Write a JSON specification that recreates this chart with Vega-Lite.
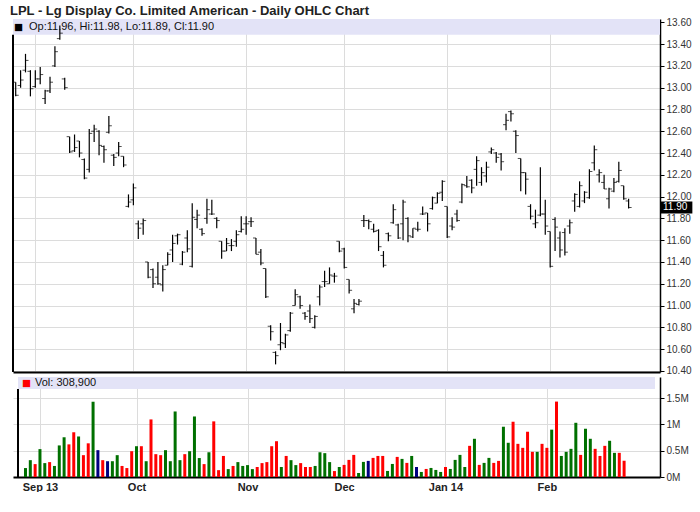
{
  "$schema": "https://vega.github.io/schema/vega-lite/v6.json",
  "padding": {"left": 10, "top": 5, "right": 0, "bottom": 0},
  "background": "white",
  "title": {"text": "LPL - Lg Display Co. Limited American - Daily OHLC Chart", "anchor": "start", "font": "Liberation Sans", "fontSize": 13, "fontWeight": "bold", "color": "#222", "dx": -2, "offset": -1},
  "config": {"view": {"stroke": null}, "font": "Liberation Sans", "concat": {"spacing": 0}},
  "spacing": 0,
  "data": {"values": [
{"day":0,"open":13.05,"high":13.05,"low":12.92,"close":12.93},
{"day":1,"open":13.02,"high":13.16,"low":13.00,"close":13.07,"volume":170000,"dir":"up"},
{"day":2,"open":13.16,"high":13.31,"low":13.14,"close":13.25,"volume":320000,"dir":"up"},
{"day":3,"open":13.15,"high":13.16,"low":12.92,"close":12.99,"volume":245000,"dir":"down"},
{"day":4,"open":13.01,"high":13.16,"low":13.00,"close":13.08,"volume":530000,"dir":"up"},
{"day":5,"open":13.08,"high":13.19,"low":13.03,"close":13.12,"volume":264000,"dir":"up"},
{"day":6,"open":12.90,"high":12.98,"low":12.85,"close":12.97,"volume":283000,"dir":"down"},
{"day":7,"open":12.97,"high":13.10,"low":12.95,"close":13.05,"volume":210000,"dir":"up"},
{"day":8,"open":13.20,"high":13.38,"low":13.19,"close":13.33,"volume":600000,"dir":"up"},
{"day":9,"open":13.45,"high":13.57,"low":13.44,"close":13.50,"volume":755000,"dir":"up"},
{"day":10,"open":13.08,"high":13.09,"low":12.98,"close":13.00,"volume":620000,"dir":"down"},
{"day":11,"open":12.55,"high":12.55,"low":12.40,"close":12.41,"volume":850000,"dir":"down"},
{"day":12,"open":12.42,"high":12.57,"low":12.41,"close":12.45,"volume":770000,"dir":"up"},
{"day":13,"open":12.51,"high":12.51,"low":12.36,"close":12.40,"volume":415000,"dir":"down"},
{"day":14,"open":12.34,"high":12.35,"low":12.16,"close":12.17,"volume":640000,"dir":"down"},
{"day":15,"open":12.25,"high":12.62,"low":12.22,"close":12.58,"volume":1430000,"dir":"up"},
{"day":16,"open":12.60,"high":12.66,"low":12.50,"close":12.62,"volume":510000,"dir":"flat"},
{"day":17,"open":12.60,"high":12.61,"low":12.38,"close":12.47,"volume":320000,"dir":"down"},
{"day":18,"open":12.46,"high":12.47,"low":12.31,"close":12.43,"volume":300000,"dir":"flat"},
{"day":19,"open":12.59,"high":12.74,"low":12.58,"close":12.65,"volume":300000,"dir":"up"},
{"day":20,"open":12.38,"high":12.39,"low":12.28,"close":12.36,"volume":415000,"dir":"up"},
{"day":21,"open":12.40,"high":12.50,"low":12.37,"close":12.46,"volume":210000,"dir":"down"},
{"day":22,"open":12.37,"high":12.37,"low":12.27,"close":12.29,"volume":170000,"dir":"down"},
{"day":23,"open":11.91,"high":12.02,"low":11.90,"close":11.95,"volume":490000,"dir":"down"},
{"day":24,"open":11.97,"high":12.12,"low":11.92,"close":12.08,"volume":585000,"dir":"up"},
{"day":25,"open":11.75,"high":11.78,"low":11.61,"close":11.71,"volume":585000,"dir":"down"},
{"day":26,"open":11.75,"high":11.80,"low":11.65,"close":11.78,"volume":300000,"dir":"up"},
{"day":27,"open":11.40,"high":11.40,"low":11.25,"close":11.26,"volume":1094000,"dir":"down"},
{"day":28,"open":11.33,"high":11.34,"low":11.16,"close":11.20,"volume":434000,"dir":"down"},
{"day":29,"open":11.26,"high":11.40,"low":11.19,"close":11.20,"volume":415000,"dir":"down"},
{"day":30,"open":11.19,"high":11.37,"low":11.13,"close":11.33,"volume":510000,"dir":"up"},
{"day":31,"open":11.37,"high":11.49,"low":11.37,"close":11.47,"volume":300000,"dir":"up"},
{"day":32,"open":11.51,"high":11.65,"low":11.40,"close":11.57,"volume":1245000,"dir":"up"},
{"day":33,"open":11.64,"high":11.66,"low":11.56,"close":11.65,"volume":320000,"dir":"up"},
{"day":34,"open":11.38,"high":11.50,"low":11.37,"close":11.49,"volume":434000,"dir":"down"},
{"day":35,"open":11.62,"high":11.69,"low":11.49,"close":11.52,"volume":490000,"dir":"up"},
{"day":36,"open":11.36,"high":11.94,"low":11.35,"close":11.81,"volume":1150000,"dir":"up"},
{"day":37,"open":11.79,"high":11.88,"low":11.71,"close":11.83,"volume":360000,"dir":"up"},
{"day":38,"open":11.70,"high":11.71,"low":11.64,"close":11.66,"volume":245000,"dir":"down"},
{"day":39,"open":11.80,"high":11.98,"low":11.75,"close":11.88,"volume":470000,"dir":"up"},
{"day":40,"open":11.84,"high":11.97,"low":11.83,"close":11.84,"volume":1057000,"dir":"down"},
{"day":41,"open":11.80,"high":11.81,"low":11.71,"close":11.78,"volume":130000,"dir":"down"},
{"day":42,"open":11.59,"high":11.59,"low":11.43,"close":11.50,"volume":400000,"dir":"down"},
{"day":43,"open":11.50,"high":11.62,"low":11.50,"close":11.57,"volume":150000,"dir":"up"},
{"day":44,"open":11.55,"high":11.61,"low":11.50,"close":11.55,"volume":210000,"dir":"down"},
{"day":45,"open":11.59,"high":11.69,"low":11.54,"close":11.65,"volume":283000,"dir":"up"},
{"day":46,"open":11.68,"high":11.82,"low":11.67,"close":11.70,"volume":210000,"dir":"up"},
{"day":47,"open":11.75,"high":11.82,"low":11.65,"close":11.75,"volume":226000,"dir":"up"},
{"day":48,"open":11.77,"high":11.81,"low":11.72,"close":11.77,"volume":150000,"dir":"up"},
{"day":49,"open":11.62,"high":11.62,"low":11.47,"close":11.47,"volume":190000,"dir":"down"},
{"day":50,"open":11.49,"high":11.52,"low":11.37,"close":11.39,"volume":264000,"dir":"down"},
{"day":51,"open":11.34,"high":11.34,"low":11.07,"close":11.08,"volume":283000,"dir":"down"},
{"day":52,"open":10.81,"high":10.82,"low":10.68,"close":10.76,"volume":585000,"dir":"down"},
{"day":53,"open":10.57,"high":10.58,"low":10.46,"close":10.54,"volume":680000,"dir":"down"},
{"day":54,"open":10.64,"high":10.84,"low":10.59,"close":10.66,"volume":190000,"dir":"up"},
{"day":55,"open":10.65,"high":10.74,"low":10.61,"close":10.73,"volume":400000,"dir":"down"},
{"day":56,"open":10.77,"high":10.94,"low":10.76,"close":10.93,"volume":320000,"dir":"up"},
{"day":57,"open":11.00,"high":11.15,"low":11.00,"close":11.10,"volume":226000,"dir":"up"},
{"day":58,"open":11.08,"high":11.09,"low":10.97,"close":11.00,"volume":264000,"dir":"down"},
{"day":59,"open":10.93,"high":10.94,"low":10.87,"close":10.90,"volume":190000,"dir":"down"},
{"day":60,"open":10.95,"high":11.01,"low":10.84,"close":10.88,"volume":190000,"dir":"down"},
{"day":61,"open":10.80,"high":10.91,"low":10.79,"close":10.90,"volume":210000,"dir":"up"},
{"day":62,"open":11.08,"high":11.19,"low":11.00,"close":11.17,"volume":470000,"dir":"up"},
{"day":63,"open":11.22,"high":11.32,"low":11.17,"close":11.22,"volume":453000,"dir":"up"},
{"day":64,"open":11.20,"high":11.35,"low":11.20,"close":11.28,"volume":283000,"dir":"up"},
{"day":65,"open":11.27,"high":11.30,"low":11.21,"close":11.27,"volume":113000,"dir":"down"},
{"day":66,"open":11.59,"high":11.59,"low":11.49,"close":11.50,"volume":190000,"dir":"up"},
{"day":67,"open":11.52,"high":11.53,"low":11.34,"close":11.35,"volume":230000,"dir":"down"},
{"day":68,"open":11.24,"high":11.24,"low":11.11,"close":11.14,"volume":325000,"dir":"down"},
{"day":69,"open":10.97,"high":11.06,"low":10.93,"close":11.02,"volume":420000,"dir":"down"},
{"day":70,"open":11.01,"high":11.06,"low":11.00,"close":11.04,"volume":76000,"dir":"up"},
{"day":71,"open":11.78,"high":11.83,"low":11.72,"close":11.78,"volume":287000,"dir":"up"},
{"day":72,"open":11.78,"high":11.79,"low":11.70,"close":11.77,"volume":306000,"dir":"flat"},
{"day":73,"open":11.70,"high":11.75,"low":11.67,"close":11.68,"volume":363000,"dir":"down"},
{"day":74,"open":11.69,"high":11.70,"low":11.50,"close":11.54,"volume":400000,"dir":"down"},
{"day":75,"open":11.46,"high":11.50,"low":11.35,"close":11.37,"volume":400000,"dir":"down"},
{"day":76,"open":11.66,"high":11.67,"low":11.59,"close":11.64,"volume":115000,"dir":"up"},
{"day":77,"open":11.76,"high":11.93,"low":11.75,"close":11.88,"volume":248000,"dir":"up"},
{"day":78,"open":11.74,"high":11.75,"low":11.61,"close":11.62,"volume":382000,"dir":"down"},
{"day":79,"open":11.75,"high":11.97,"low":11.60,"close":11.95,"volume":344000,"dir":"up"},
{"day":80,"open":11.80,"high":11.81,"low":11.58,"close":11.64,"volume":268000,"dir":"down"},
{"day":81,"open":11.63,"high":11.71,"low":11.62,"close":11.71,"volume":400000,"dir":"up"},
{"day":82,"open":11.70,"high":11.77,"low":11.68,"close":11.70,"volume":190000,"dir":"flat"},
{"day":83,"open":11.84,"high":11.91,"low":11.83,"close":11.84,"volume":96000,"dir":"up"},
{"day":84,"open":11.85,"high":11.85,"low":11.68,"close":11.75,"volume":153000,"dir":"down"},
{"day":85,"open":11.89,"high":12.00,"low":11.88,"close":11.99,"volume":172000,"dir":"up"},
{"day":86,"open":11.94,"high":12.04,"low":11.94,"close":12.03,"volume":134000,"dir":"up"},
{"day":87,"open":12.04,"high":12.15,"low":11.96,"close":12.14,"volume":96000,"dir":"up"},
{"day":88,"open":11.91,"high":11.91,"low":11.62,"close":11.63,"volume":190000,"dir":"down"},
{"day":89,"open":11.73,"high":11.81,"low":11.69,"close":11.72,"volume":153000,"dir":"up"},
{"day":90,"open":11.84,"high":11.88,"low":11.77,"close":11.78,"volume":325000,"dir":"up"},
{"day":91,"open":11.95,"high":12.12,"low":11.94,"close":12.11,"volume":420000,"dir":"up"},
{"day":92,"open":12.10,"high":12.19,"low":12.08,"close":12.09,"volume":190000,"dir":"up"},
{"day":93,"open":12.15,"high":12.16,"low":12.03,"close":12.08,"volume":592000,"dir":"down"},
{"day":94,"open":12.25,"high":12.37,"low":12.10,"close":12.33,"volume":726000,"dir":"up"},
{"day":95,"open":12.13,"high":12.27,"low":12.10,"close":12.22,"volume":230000,"dir":"down"},
{"day":96,"open":12.19,"high":12.32,"low":12.13,"close":12.27,"volume":268000,"dir":"up"},
{"day":97,"open":12.41,"high":12.45,"low":12.39,"close":12.43,"volume":363000,"dir":"up"},
{"day":98,"open":12.40,"high":12.41,"low":12.31,"close":12.36,"volume":268000,"dir":"down"},
{"day":99,"open":12.39,"high":12.40,"low":12.24,"close":12.32,"volume":306000,"dir":"down"},
{"day":100,"open":12.66,"high":12.76,"low":12.61,"close":12.70,"volume":955000,"dir":"up"},
{"day":101,"open":12.78,"high":12.79,"low":12.69,"close":12.76,"volume":650000,"dir":"up"},
{"day":102,"open":12.60,"high":12.61,"low":12.40,"close":12.56,"volume":1050000,"dir":"down"},
{"day":103,"open":12.35,"high":12.35,"low":12.05,"close":12.22,"volume":630000,"dir":"down"},
{"day":104,"open":12.22,"high":12.22,"low":12.02,"close":12.16,"volume":554000,"dir":"down"},
{"day":105,"open":11.91,"high":11.93,"low":11.79,"close":11.82,"volume":860000,"dir":"down"},
{"day":106,"open":11.75,"high":11.88,"low":11.71,"close":11.76,"volume":478000,"dir":"down"},
{"day":107,"open":11.83,"high":12.27,"low":11.82,"close":11.84,"volume":478000,"dir":"up"},
{"day":108,"open":11.84,"high":11.97,"low":11.65,"close":11.73,"volume":630000,"dir":"down"},
{"day":109,"open":11.68,"high":11.68,"low":11.35,"close":11.36,"volume":554000,"dir":"down"},
{"day":110,"open":11.79,"high":11.81,"low":11.50,"close":11.72,"volume":900000,"dir":"up"},
{"day":111,"open":11.62,"high":11.68,"low":11.44,"close":11.51,"volume":1433000,"dir":"down"},
{"day":112,"open":11.67,"high":11.71,"low":11.46,"close":11.49,"volume":400000,"dir":"up"},
{"day":113,"open":11.73,"high":11.79,"low":11.66,"close":11.76,"volume":478000,"dir":"up"},
{"day":114,"open":11.96,"high":12.03,"low":11.86,"close":12.02,"volume":535000,"dir":"up"},
{"day":115,"open":11.91,"high":12.14,"low":11.90,"close":12.10,"volume":1030000,"dir":"up"},
{"day":116,"open":11.96,"high":12.05,"low":11.94,"close":12.04,"volume":420000,"dir":"down"},
{"day":117,"open":11.99,"high":12.25,"low":11.98,"close":12.23,"volume":917000,"dir":"up"},
{"day":118,"open":12.31,"high":12.47,"low":12.24,"close":12.43,"volume":726000,"dir":"up"},
{"day":119,"open":12.20,"high":12.25,"low":12.13,"close":12.22,"volume":535000,"dir":"down"},
{"day":120,"open":12.13,"high":12.20,"low":12.07,"close":12.07,"volume":400000,"dir":"down"},
{"day":121,"open":11.98,"high":12.08,"low":11.89,"close":12.07,"volume":592000,"dir":"down"},
{"day":122,"open":12.05,"high":12.17,"low":12.04,"close":12.13,"volume":688000,"dir":"up"},
{"day":123,"open":12.14,"high":12.32,"low":12.13,"close":12.24,"volume":459000,"dir":"up"},
{"day":124,"open":12.10,"high":12.10,"low":11.97,"close":11.98,"volume":459000,"dir":"down"},
{"day":125,"open":11.96,"high":11.98,"low":11.89,"close":11.90,"volume":308900,"dir":"down"}
  ]},
  "vconcat": [
    {
      "width": 647,
      "height": 353,
      "layer": [
        {
          "data": {"values": [{}]},
          "mark": {"type": "rect", "color": "#e3e3f7"},
          "encoding": {
            "x": {"datum": -0.55, "type": "quantitative", "scale": {"domain": [-0.55, 131.4], "nice": false, "zero": false},
              "axis": {"title": null, "values": [4, 24, 47, 67, 88, 109], "tickCount": 20, "labels": false, "ticks": false, "tickSize": 0, "labelPadding": 0, "minExtent": 0, "maxExtent": 0, "grid": true, "gridColor": "#dcdcdc", "domainColor": "#000", "domainWidth": 2}},
            "x2": {"datum": 131.4},
            "y": {"datum": 13.63, "type": "quantitative", "scale": {"domain": [10.39, 13.63], "nice": false, "zero": false},
              "axis": {"title": null, "orient": "right", "values": [10.4, 10.6, 10.8, 11.0, 11.2, 11.4, 11.6, 11.8, 12.0, 12.2, 12.4, 12.6, 12.8, 13.0, 13.2, 13.4, 13.6], "tickCount": 40, "format": ".2f", "labelOverlap": false, "labelFlush": false, "labelBound": false, "grid": true, "gridColor": "#dcdcdc", "domainColor": "#000", "domainWidth": 1.5, "tickColor": "#000", "tickSize": 4, "labelFontSize": 10, "labelColor": "#333", "labelPadding": 2}},
            "y2": {"datum": 13.485}
          }
        },
        {
          "data": {"values": [{}]},
          "mark": {"type": "rule", "color": "#000", "strokeWidth": 2},
          "encoding": {
            "x": {"datum": -0.55, "type": "quantitative"},
            "y": {"datum": 10.39, "type": "quantitative"},
            "y2": {"datum": 13.485}
          }
        },
        {
          "mark": {"type": "rule", "color": "#000", "strokeWidth": 1.2},
          "encoding": {
            "x": {"field": "day", "type": "quantitative"},
            "y": {"field": "low", "type": "quantitative"},
            "y2": {"field": "high"}
          }
        },
        {
          "mark": {"type": "tick", "orient": "horizontal", "color": "#000", "size": 3, "thickness": 1, "xOffset": -1.5},
          "encoding": {
            "x": {"field": "day", "type": "quantitative"},
            "y": {"field": "open", "type": "quantitative"}
          }
        },
        {
          "mark": {"type": "tick", "orient": "horizontal", "color": "#000", "size": 3, "thickness": 1, "xOffset": 1.5},
          "encoding": {
            "x": {"field": "day", "type": "quantitative"},
            "y": {"field": "close", "type": "quantitative"}
          }
        },
        {
          "data": {"values": [{}]},
          "mark": {"type": "text", "text": "■", "color": "#000", "align": "left", "baseline": "middle", "fontSize": 15, "dx": 1},
          "encoding": {
            "x": {"datum": -0.55, "type": "quantitative"},
            "y": {"datum": 13.555, "type": "quantitative"}
          }
        },
        {
          "data": {"values": [{}]},
          "mark": {"type": "text", "text": "Op:11.96, Hi:11.98, Lo:11.89, Cl:11.90", "color": "#111", "align": "left", "baseline": "middle", "fontSize": 11, "dx": 16},
          "encoding": {
            "x": {"datum": -0.55, "type": "quantitative"},
            "y": {"datum": 13.555, "type": "quantitative"}
          }
        },
        {
          "data": {"values": [{}]},
          "mark": {"type": "rect", "color": "#000"},
          "encoding": {
            "x": {"datum": 131.4, "type": "quantitative"},
            "x2": {"datum": 138.0},
            "y": {"datum": 11.955, "type": "quantitative"},
            "y2": {"datum": 11.845}
          }
        },
        {
          "data": {"values": [{}]},
          "mark": {"type": "text", "text": "11.90", "color": "#fff", "align": "left", "baseline": "middle", "fontSize": 10, "dx": 3},
          "encoding": {
            "x": {"datum": 131.4, "type": "quantitative"},
            "y": {"datum": 11.9, "type": "quantitative"}
          }
        }
      ]
    },
    {
      "width": 647,
      "height": 100,
      "layer": [
        {
          "data": {"values": [{}]},
          "mark": {"type": "rect", "color": "#e3e3f7"},
          "encoding": {
            "x": {"datum": -0.55, "type": "quantitative", "scale": {"domain": [-0.55, 131.4], "nice": false, "zero": false},
              "axis": {"title": null, "values": [4, 24, 47, 67, 88, 109], "tickCount": 20, "labelExpr": "datum.value == 4 ? 'Sep 13' : datum.value == 24 ? 'Oct' : datum.value == 47 ? 'Nov' : datum.value == 67 ? 'Dec' : datum.value == 88 ? 'Jan 14' : 'Feb'", "labelOverlap": false, "labelFlush": false, "labelBound": false, "labelFontSize": 11, "labelFontWeight": "bold", "labelColor": "#222", "labelPadding": 4, "ticks": false, "tickSize": 0, "grid": true, "gridColor": "#dcdcdc", "domainColor": "#000", "domainWidth": 2}},
            "x2": {"datum": 131.4},
            "y": {"datum": 1900000, "type": "quantitative", "scale": {"domain": [0, 1900000], "nice": false},
              "axis": {"title": null, "orient": "right", "values": [0, 500000, 1000000, 1500000], "tickCount": 10, "labelExpr": "(datum.value / 1000000) + 'M'", "labelOverlap": false, "labelFlush": false, "labelBound": false, "grid": true, "gridColor": "#dcdcdc", "domainColor": "#000", "domainWidth": 1.5, "tickColor": "#000", "tickSize": 4, "labelFontSize": 10, "labelColor": "#333", "labelPadding": 2}},
            "y2": {"datum": 1670000}
          }
        },
        {
          "data": {"values": [{}]},
          "mark": {"type": "rule", "color": "#000", "strokeWidth": 2},
          "encoding": {
            "x": {"datum": -0.55, "type": "quantitative"},
            "y": {"datum": 0, "type": "quantitative"},
            "y2": {"datum": 1670000}
          }
        },
        {
          "mark": {"type": "bar", "size": 3},
          "encoding": {
            "x": {"field": "day", "type": "quantitative"},
            "y": {"field": "volume", "type": "quantitative"},
            "color": {"field": "dir", "type": "nominal", "scale": {"domain": ["up", "down", "flat"], "range": ["#007000", "#ff0000", "#000080"]}, "legend": null}
          }
        },
        {
          "data": {"values": [{}]},
          "mark": {"type": "text", "text": "■", "color": "#ff0000", "align": "left", "baseline": "middle", "fontSize": 15, "dx": 4},
          "encoding": {
            "x": {"datum": -0.55, "type": "quantitative"},
            "y": {"datum": 1785000, "type": "quantitative"}
          }
        },
        {
          "data": {"values": [{}]},
          "mark": {"type": "text", "text": "Vol: 308,900", "color": "#111", "align": "left", "baseline": "middle", "fontSize": 11, "dx": 17},
          "encoding": {
            "x": {"datum": -0.55, "type": "quantitative"},
            "y": {"datum": 1785000, "type": "quantitative"}
          }
        }
      ]
    }
  ]
}
